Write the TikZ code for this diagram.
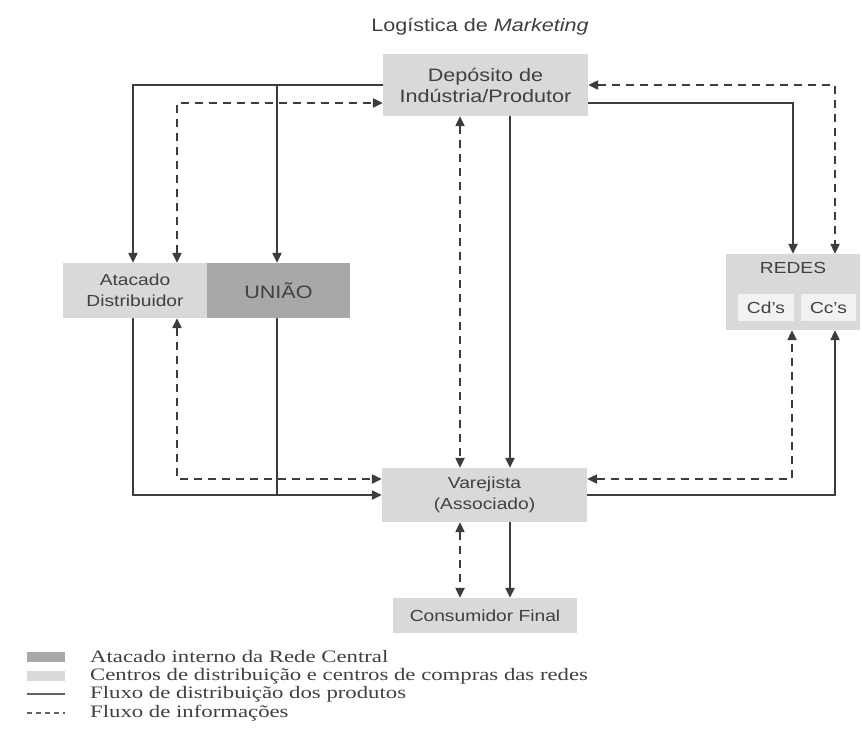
\documentclass[tikz,border=0pt]{standalone}
\usepackage{fontspec}
\setmainfont{Liberation Sans}[FakeStretch=1.2]
\newfontfamily\legfont{Liberation Serif}[FakeStretch=1.3]
\usetikzlibrary{arrows.meta}
\definecolor{lightg}{HTML}{D9D9D9}
\definecolor{darkg}{HTML}{A8A8A8}
\definecolor{innerg}{HTML}{F2F2F2}
\definecolor{linec}{HTML}{3C3C3C}
\definecolor{textc}{HTML}{404040}
\tikzset{
  box/.style={fill=lightg, draw=none, inner sep=0pt, align=center, text=textc},
  sol/.style={draw=linec, line width=2.2pt},
  dsh/.style={draw=linec, line width=2.2pt, dash pattern=on 8pt off 6pt},
  tip/.tip={Triangle[length=10pt,width=9pt]},
  legtext/.style={anchor=west, inner sep=0pt, text=textc, font=\legfont\fontsize{17.5}{19}\selectfont},
  fsmall/.style={font=\fontsize{16}{21}\selectfont},
  fbig/.style={font=\fontsize{18}{21}\selectfont}
}
\begin{document}
\begin{tikzpicture}[x=1pt,y=-1pt]
\useasboundingbox (0,0) rectangle (862,744);

% title
\node[fbig, text=textc] (title) at (480,27) {Logística de \textit{Marketing}};

% boxes
\node[box, fbig, minimum width=205pt, minimum height=62pt] (dep) at (485.5,85) {Depósito de\\Indústria/Produtor};
\node[box, fsmall, minimum width=144pt, minimum height=55pt] (atac) at (135,290.5) {Atacado\\Distribuidor};
\node[box, fbig, fill=darkg, minimum width=143pt, minimum height=55pt] (uniao) at (278.5,290.5) {UNIÃO};
\node[box, minimum width=134pt, minimum height=76pt] (redes) at (793,292) {};
\node[fsmall, text=textc] (redeslbl) at (793,268) {REDES};
\node[box, fsmall, fill=innerg, minimum width=56pt, minimum height=27pt] (cds) at (766,307.5) {Cd's};
\node[box, fsmall, fill=innerg, minimum width=55pt, minimum height=27pt] (ccs) at (828.5,307.5) {Cc's};
\node[box, fsmall, minimum width=205pt, minimum height=54pt] (varej) at (484.5,495) {Varejista\\(Associado)};
\node[box, fsmall, minimum width=184pt, minimum height=35pt] (cons) at (485,615.5) {Consumidor Final};

% routing coordinates
\coordinate (L1) at (133,85);
\coordinate (L2) at (177,103);
\coordinate (L3) at (277,85);
\coordinate (L4) at (177,479);
\coordinate (L5) at (133,495);
\coordinate (L6) at (277,495);
\coordinate (R1) at (793,103);
\coordinate (R2) at (835,85);
\coordinate (R3) at (792,479);
\coordinate (R4) at (835,495);
\coordinate (M1) at (460,0);
\coordinate (M2) at (510,0);

% left side
\draw[sol,-tip] (dep.west) -- (L1) -- (atac.north -| L1);
\draw[sol,-tip] (L3) -- (uniao.north -| L3);
\draw[dsh,tip-tip] (atac.north -| L2) -- (L2) -- (dep.west |- L2);
\draw[dsh,tip-tip] (atac.south -| L4) -- (L4) -- (varej.west |- L4);
\draw[sol,-tip] (atac.south -| L5) -- (L5) -- (varej.west);
\draw[sol] (uniao.south -| L6) -- (L6);

% right side
\draw[sol,-tip] (dep.east |- R1) -- (R1) -- (redes.north -| R1);
\draw[dsh,tip-tip] (dep.east) -- (R2) -- (redes.north -| R2);
\draw[dsh,tip-tip] (varej.east |- R3) -- (R3) -- (redes.south -| R3);
\draw[sol,-tip] (varej.east) -- (R4) -- (redes.south -| R4);

% centre
\draw[dsh,tip-tip] (dep.south -| M1) -- (varej.north -| M1);
\draw[sol,-tip] (dep.south -| M2) -- (varej.north -| M2);
\draw[dsh,tip-tip] (varej.south -| M1) -- (cons.north -| M1);
\draw[sol,-tip] (varej.south -| M2) -- (cons.north -| M2);

% legend
\node[fill=darkg, minimum width=38pt, minimum height=10pt, inner sep=0pt] (sw1) at (46,657) {};
\node[fill=lightg, minimum width=38pt, minimum height=10pt, inner sep=0pt] (sw2) at (46,676) {};
\coordinate (sw3a) at (27,694);
\coordinate (sw3b) at (65,694);
\coordinate (sw4a) at (27,713);
\coordinate (sw4b) at (65,713);
\draw[draw=linec!80, line width=1.8pt] (sw3a) -- (sw3b);
\draw[draw=linec!80, line width=1.8pt, dash pattern=on 5pt off 4pt] (sw4a) -- (sw4b);
\node[legtext] (lt1) at (90,657) {Atacado interno da Rede Central};
\node[legtext] (lt2) at (90,676) {Centros de distribuição e centros de compras das redes};
\node[legtext] (lt3) at (90,694) {Fluxo de distribuição dos produtos};
\node[legtext] (lt4) at (90,713) {Fluxo de informações};
\end{tikzpicture}
\end{document}
